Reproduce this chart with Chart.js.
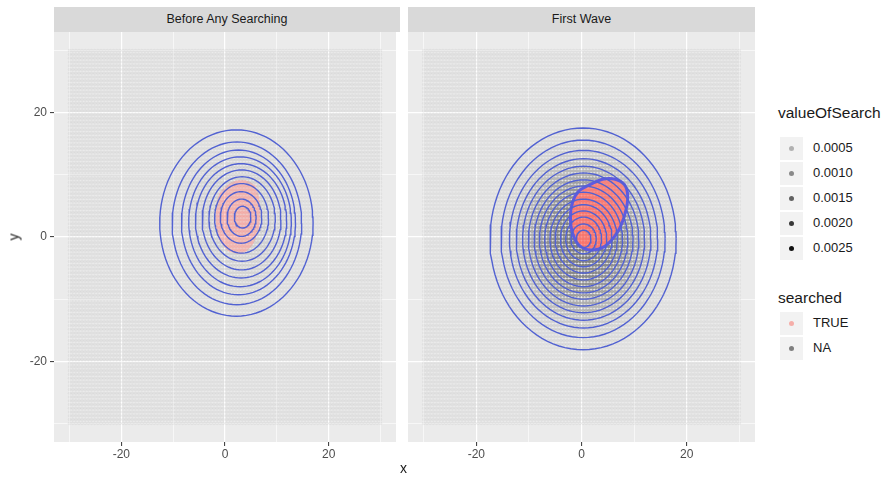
<!DOCTYPE html>
<html>
<head>
<meta charset="utf-8">
<script src="https://cdn.jsdelivr.net/npm/chart.js@4.4.0/dist/chart.umd.min.js"></script>
<style>
  body { margin: 0; background: #fff; font-family: "Liberation Sans", Arial, sans-serif; }
  #wrap { position: relative; width: 888px; height: 478px; overflow: hidden; }
  canvas { position: absolute; top: 0; }
  .strip { position: absolute; top: 7px; height: 25px; background: #D9D9D9; color: #1A1A1A;
           font-size: 12.5px; line-height: 25px; text-align: center; }
  .axt { position: absolute; font-size: 14px; color: #1A1A1A; }
  .lgt { position: absolute; font-size: 15.5px; color: #1A1A1A; }
  .key { position: absolute; width: 23px; height: 23px; background: #F2F2F2; }
  .key span { position: absolute; left: 9px; top: 9px; width: 5px; height: 5px; border-radius: 50%; }
  .lbl { position: absolute; font-size: 13px; color: #1A1A1A; line-height: 16px; }
</style>
</head>
<body>
<div id="wrap">
  <canvas id="left" width="400" height="478" style="left:0"></canvas>
  <canvas id="right" width="360" height="478" style="left:400px"></canvas>
  <div class="strip" style="left:54px;width:346px">Before Any Searching</div>
  <div class="strip" style="left:408px;width:347px">First Wave</div>
  <div class="axt" style="left:10px;top:229px;transform:rotate(-90deg)">y</div>
  <div class="axt" style="left:400px;top:460px">x</div>
  <div id="legend"></div>
</div>
<script>
// axis breaks
const gridBreaks = [-30, -20, -10, 0, 10, 20, 30];
const majorBreaks = [-20, 0, 20];
const axisMin = -33, axisMax = 33;

// search grid: seq(-30, 30, length = 100)
const gridFrom = -30, gridTo = 30, gridCount = 100;

// density contours, outer -> inner: [cx, cy, rx, ry]
const leftRings = [
  [2.2, 2.25, 14.8, 15.0], [2.3, 2.2, 12.5, 13.1], [2.6, 2.35, 11.0, 11.65],
  [2.9, 2.45, 9.9, 10.45], [3.1, 2.6, 8.8, 9.2], [3.2, 2.75, 7.6, 8.05],
  [3.3, 2.9, 6.4, 6.8], [3.2, 3.0, 5.2, 5.6], [3.1, 3.15, 4.0, 4.15],
  [3.2, 3.1, 2.8, 3.0], [3.4, 3.2, 1.6, 1.75]
];
const leftLevels = [0.00005, 0.0001, 0.00015, 0.0002, 0.00025, 0.0003,
  0.00035, 0.0004, 0.00045, 0.0005, 0.00055];

const rightRings = [
  [0.3, -0.3, 17.7, 17.85], [0.3, -0.3, 15.6, 15.9], [0.4, -0.35, 14.1, 14.3],
  [0.4, -0.4, 12.8, 13.0], [0.4, -0.4, 11.6, 11.8], [0.4, -0.4, 10.5, 10.7],
  [0.4, -0.4, 9.4, 9.6], [0.4, -0.4, 8.4, 8.6], [0.4, -0.4, 7.4, 7.6],
  [0.4, -0.4, 6.4, 6.5], [0.4, -0.3, 5.4, 5.5], [0.4, -0.3, 4.4, 4.5],
  [0.4, -0.3, 3.4, 3.5], [0.4, -0.3, 2.4, 2.4], [0.4, -0.3, 1.4, 1.4]
];
const rightLevels = [0.00015, 0.0003, 0.0005, 0.0008, 0.0011, 0.0014,
  0.0017, 0.002, 0.0022, 0.0024, 0.0025, 0.0026, 0.0027, 0.0027, 0.0027];

// searched == TRUE regions (outline)
const leftSearched = [
  [-1.8, 3], [-1.3, 6.6], [0.8, 8.6], [3.5, 9.2], [5.8, 8.2], [6.8, 5], [6.5, 1.3],
  [5.2, -1.4], [3, -2.7], [0.4, -2.1], [-1.4, 0.3]
];
const rightSearched = [
  [1.5, 8.4], [4, 9.3], [6.4, 9.3], [8.2, 8.4], [8.8, 6.5], [8.3, 3.8],
  [7.0, 1.0], [4.6, -1.4], [1.8, -2.1], [-0.4, -1.4], [-1.7, 0.6], [-2.1, 3.2],
  [-1.7, 5.6], [-0.5, 7.4]
];

// legend
const alphaBreaks = [0.0005, 0.0010, 0.0015, 0.0020, 0.0025];
const alphaLabels = ["0.0005", "0.0010", "0.0015", "0.0020", "0.0025"];
const searchedLabels = ["TRUE", "NA"];

const alphaMax = 0.0027;
const trueRgb = "248,118,109";
const naRgb = "127,127,127";
const contourColor = "#5262D2";
const font = "'Liberation Sans', Arial, sans-serif";

function alphaOf(v) {
  return 0.1 + 0.9 * Math.min(v, alphaMax) / alphaMax;
}

function levelAt(rings, levels, x, y) {
  let v = 0;
  rings.forEach((r, i) => {
    const dx = (x - r[0]) / r[2], dy = (y - r[1]) / r[3];
    if (dx * dx + dy * dy <= 1) v = levels[i];
  });
  return v;
}

function inPoly(poly, x, y) {
  let inside = false;
  for (let i = 0, j = poly.length - 1; i < poly.length; j = i++) {
    const [xi, yi] = poly[i], [xj, yj] = poly[j];
    if ((yi > y) != (yj > y) && x < (xj - xi) * (y - yi) / (yj - yi) + xi) inside = !inside;
  }
  return inside;
}

function buildPoints(rings, levels, poly) {
  const pts = [], colors = [];
  const step = (gridTo - gridFrom) / (gridCount - 1);
  for (let i = 0; i < gridCount; i++) {
    for (let j = 0; j < gridCount; j++) {
      const x = gridFrom + i * step, y = gridFrom + j * step;
      const v = levelAt(rings, levels, x, y);
      const rgb = inPoly(poly, x, y) ? trueRgb : naRgb;
      pts.push({ x, y });
      colors.push(`rgba(${rgb},${alphaOf(v).toFixed(3)})`);
    }
  }
  return { pts, colors };
}

function ringPath(r) {
  const out = [];
  for (let k = 0; k <= 96; k++) {
    const t = (k / 96) * Math.PI * 2;
    out.push({ x: r[0] + r[2] * Math.cos(t), y: r[1] + r[3] * Math.sin(t) });
  }
  return out;
}

const panelBg = {
  id: "panelBg",
  beforeDraw(chart) {
    const { ctx, chartArea: a } = chart;
    ctx.save();
    ctx.fillStyle = "#EBEBEB";
    ctx.fillRect(a.left, a.top, a.right - a.left, a.bottom - a.top);
    ctx.restore();
  },
};

function gridOpts(withTicks) {
  return {
    color: "#FFFFFF",
    lineWidth: (c) => (majorBreaks.includes(c.tick && c.tick.value) ? 1.2 : 0.6),
    drawTicks: withTicks,
    tickLength: 4,
    tickWidth: 1,
    tickColor: (c) => (majorBreaks.includes(c.tick && c.tick.value) ? "#333333" : "rgba(0,0,0,0)"),
  };
}

function makePanel(id, rings, levels, poly, fillAlpha, outlined, padLeft, padRight, showY) {
  const { pts, colors } = buildPoints(rings, levels, poly);
  const datasets = [];
  rings.forEach((r) => {
    datasets.push({
      data: ringPath(r), showLine: true, pointRadius: 0, borderColor: contourColor,
      borderWidth: 1.4, fill: false, tension: 0,
    });
  });
  const outline = poly.map(([x, y]) => ({ x, y }));
  outline.push({ x: poly[0][0], y: poly[0][1] });
  datasets.push({
    data: outline, showLine: true, pointRadius: 0, tension: 0.3,
    borderColor: outlined ? "#5F5AE0" : "rgba(0,0,0,0)",
    borderWidth: outlined ? 3 : 0,
    fill: "shape", backgroundColor: `rgba(${trueRgb},${fillAlpha})`,
  });
  datasets.push({
    data: pts, pointRadius: 1.8, pointBorderWidth: 0, pointBackgroundColor: colors,
    showLine: false,
  });

  new Chart(document.getElementById(id), {
    type: "scatter",
    data: { datasets },
    plugins: [panelBg],
    options: {
      responsive: false,
      animation: false,
      events: [],
      layout: { padding: { top: 32, left: padLeft, right: padRight, bottom: 0 } },
      plugins: { legend: { display: false }, tooltip: { enabled: false } },
      scales: {
        x: {
          type: "linear", min: axisMin, max: axisMax,
          afterBuildTicks: (s) => { s.ticks = gridBreaks.map((v) => ({ value: v })); },
          afterFit: (s) => { s.height = 36; },
          grid: gridOpts(true),
          border: { display: false },
          ticks: {
            autoSkip: false, maxRotation: 0, padding: 1, color: "#4D4D4D",
            font: { size: 12, family: font },
            callback: (v) => (majorBreaks.includes(v) ? String(v) : ""),
          },
        },
        y: {
          type: "linear", min: axisMin, max: axisMax,
          afterBuildTicks: (s) => { s.ticks = gridBreaks.map((v) => ({ value: v })); },
          afterFit: (s) => { s.width = showY ? 54 : 0; },
          grid: gridOpts(showY),
          border: { display: false },
          ticks: {
            display: showY, autoSkip: false, padding: 3, color: "#4D4D4D",
            font: { size: 12, family: font },
            callback: (v) => (majorBreaks.includes(v) ? String(v) : ""),
          },
        },
      },
    },
  });
}

makePanel("left", leftRings, leftLevels, leftSearched, 0.3, false, 0, 0, true);
makePanel("right", rightRings, rightLevels, rightSearched, 0.72, true, 8, 5, false);

// legend (html)
const legend = document.getElementById("legend");
function addText(cls, text, left, top) {
  const d = document.createElement("div");
  d.className = cls;
  d.textContent = text;
  d.style.left = left + "px";
  d.style.top = top + "px";
  legend.appendChild(d);
}
function addKey(top, color) {
  const k = document.createElement("div");
  k.className = "key";
  k.style.left = "780px";
  k.style.top = top + "px";
  const s = document.createElement("span");
  s.style.background = color;
  k.appendChild(s);
  legend.appendChild(k);
}
addText("lgt", "valueOfSearch", 778, 104);
alphaBreaks.forEach((b, i) => {
  const cy = 148 + i * 25;
  addKey(cy - 11.5, `rgba(0,0,0,${alphaOf(b).toFixed(3)})`);
  addText("lbl", alphaLabels[i], 813, cy - 8);
});
addText("lgt", "searched", 778, 289);
[`rgba(${trueRgb},0.55)`, `rgb(${naRgb})`].forEach((c, i) => {
  const cy = 323 + i * 25;
  addKey(cy - 11.5, c);
  addText("lbl", searchedLabels[i], 813, cy - 8);
});
</script>
</body>
</html>
